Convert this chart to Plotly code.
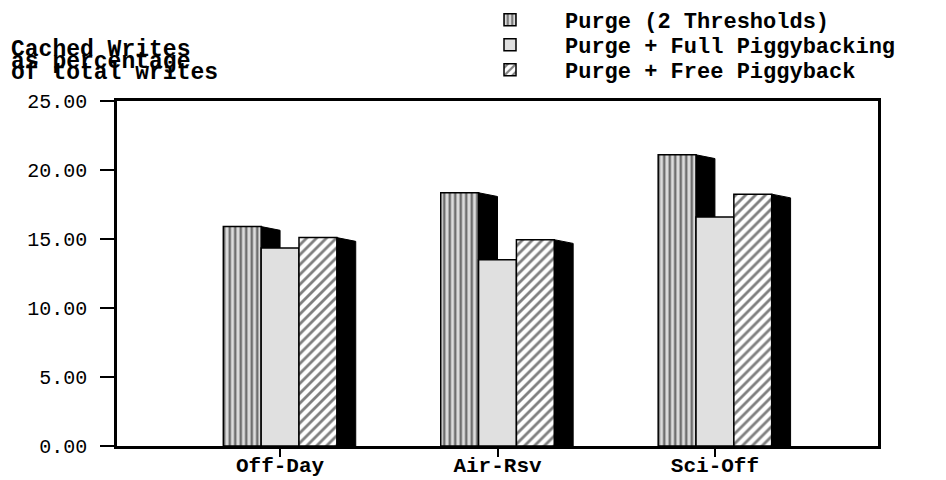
import plotly.graph_objects as go

categories = ["Off-Day", "Air-Rsv", "Sci-Off"]
series_names = ["Purge (2 Thresholds)", "Purge + Full Piggybacking", "Purge + Free Piggyback"]
purge_2thr = [15.9, 18.35, 21.1]
purge_full = [14.35, 13.5, 16.6]
purge_free = [15.1, 14.95, 18.25]
y_ticks = [0, 5, 10, 15, 20, 25]

series = [purge_2thr, purge_full, purge_free]
FONT = "Liberation Mono"
W = 0.174          # bar width (category units)
DX = 0.087         # 3D side depth in x
DY = 0.27          # 3D side slant in y

styles = [
    dict(color="white", pattern=dict(shape="|", fgcolor="black", bgcolor="#dcdcdc", size=5.5, solidity=0.45)),
    dict(color="#e0e0e0"),
    dict(color="white", pattern=dict(shape="/", fgcolor="black", bgcolor="white", size=7, solidity=0.4)),
]
legend_ids = ["legend", "legend2", "legend3"]
legend_rows = [20, 45, 70]   # pixel row centres

xs = list(range(len(categories)))
fig = go.Figure()
shapes = []
for i, (name, vals, st) in enumerate(zip(series_names, series, styles)):
    off = -1.5 * W + i * W
    marker = dict(line=dict(color="black", width=1.5), **st)
    fig.add_trace(go.Bar(x=xs, y=vals, name=name, width=W, offset=off, marker=marker,
                         legend=legend_ids[i]))
    for j, v in zip(xs, vals):
        xr = j + off + W
        shapes.append(dict(
            type="path", xref="x", yref="y", layer="below",
            path=f"M {xr},0 L {xr},{v} L {xr+DX},{v-DY} L {xr+DX},0 Z",
            fillcolor="black", line=dict(color="black", width=1)))

ann = []
for txt, yp in [("Cached Writes", 50), ("as percentage", 62), ("of total writes", 73)]:
    ann.append(dict(text=txt, xref="paper", yref="paper", x=(9 - 117) / 761, y=(446 - yp) / 345,
                    xanchor="left", yanchor="middle", showarrow=False,
                    font=dict(family=FONT, size=23, color="black", weight="bold")))

legend_layouts = {}
for lid, yp in zip(legend_ids, legend_rows):
    legend_layouts[lid] = dict(x=(455 - 117) / 761, y=(446 - yp) / 345, xanchor="left", yanchor="middle",
                               font=dict(family=FONT, size=22, color="black", weight="bold"),
                               itemwidth=100, bgcolor="rgba(0,0,0,0)")

fig.update_layout(
    width=946, height=480,
    margin=dict(l=117, r=68, t=101, b=34, autoexpand=False),
    paper_bgcolor="white", plot_bgcolor="white",
    barmode="overlay",
    shapes=shapes, annotations=ann,
    showlegend=True,
    xaxis=dict(range=[-0.75, 2.75], tickvals=xs, ticktext=categories, automargin=False,
               showline=True, linecolor="black", linewidth=2.5, mirror=True,
               ticks="outside", ticklen=8, tickcolor="black", tickwidth=1.5,
               ticklabelstandoff=-10,
               tickfont=dict(family=FONT, size=21, color="black", weight="bold"),
               showgrid=False, zeroline=False),
    yaxis=dict(range=[0, 25], tickvals=y_ticks, tickformat=".2f", automargin=False,
               showline=True, linecolor="black", linewidth=2.5, mirror=True,
               ticks="outside", ticklen=14, tickcolor="black", tickwidth=1.5,
               ticklabelstandoff=9,
               tickfont=dict(family=FONT, size=20, color="black"),
               showgrid=False, zeroline=False),
    **legend_layouts,
)

fig.write_html("out.html")
